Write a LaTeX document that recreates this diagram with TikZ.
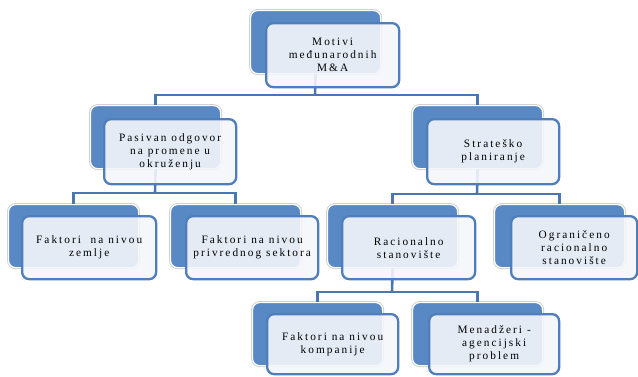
\documentclass[tikz,border=0pt]{standalone}
\usepackage{fontspec}
\setmainfont{Liberation Serif}[LetterSpace=18]
\definecolor{backblue}{RGB}{88,137,196}
\definecolor{frontfill}{RGB}{244,246,251}
\definecolor{frontline}{RGB}{79,126,189}
\definecolor{connblue}{RGB}{74,118,178}
\tikzset{
  backbox/.style={rectangle, rounded corners=7pt, fill=backblue, draw=white, line width=1.2pt,
    preaction={draw=black!18, line width=3pt},
    minimum width=130pt, minimum height=63pt, anchor=north west, inner sep=0pt},
  frontbox/.style={rectangle, rounded corners=7pt, fill=frontfill, fill opacity=0.9, text opacity=1,
    draw=frontline, draw opacity=1, line width=2.3pt, minimum width=133pt, minimum height=64pt,
    anchor=north west, align=center, inner sep=0pt, text=black,
    font=\fontsize{11.3}{13}\selectfont},
  conn/.style={draw=connblue, line width=2.6pt}
}
\begin{document}
\begin{tikzpicture}[x=1pt,y=-1pt]
\useasboundingbox (0,0) rectangle (638,376);
% back boxes
\node[backbox] (b0) at (250,10) {};
\node[backbox] (b1) at (90,105) {};
\node[backbox] (b2) at (412,105) {};
\node[backbox] (b3) at (8,204) {};
\node[backbox] (b4) at (170,204) {};
\node[backbox] (b5) at (327,204) {};
\node[backbox] (b6) at (494,204) {};
\node[backbox] (b7) at (252,302) {};
\node[backbox] (b8) at (412,302) {};
% junctions
\coordinate (j0) at (315,95);
\coordinate (j1) at (155,193);
\coordinate (j2) at (477,194);
\coordinate (j3) at (392,292);
% connectors
\draw[conn] (b0.south) -- (j0);
\draw[conn] (j0) -| (b1.north);
\draw[conn] (j0) -| (b2.north);
\draw[conn] (b1.south) -- (j1);
\draw[conn] (j1) -| (b3.north);
\draw[conn] (j1) -| (b4.north);
\draw[conn] (b2.south) -- (j2);
\draw[conn] (j2) -| (b5.north);
\draw[conn] (j2) -| (b6.north);
\draw[conn] (b5.south) -- (j3);
\draw[conn] (j3) -| (b7.north);
\draw[conn] (j3) -| (b8.north);
% front boxes
\node[frontbox] (f0) at (265,22) {Motivi\\međunarodnih\\M\&A};
\node[frontbox, minimum width=132pt, minimum height=65pt] (f1) at (103,118) {Pasivan odgovor\\na promene u\\okruženju};
\node[frontbox, minimum width=132pt, minimum height=65pt] (f2) at (426,118) {Strateško\\planiranje};
\node[frontbox, minimum width=134pt, minimum height=63pt] (f3) at (21,215) {Faktori\ \ na nivou\\zemlje};
\node[frontbox, minimum width=132pt, minimum height=63pt] (f4) at (185,215) {Faktori na nivou\\privrednog sektora};
\node[frontbox, minimum width=133pt, minimum height=63pt] (f5) at (341,215) {Racionalno\\stanovište};
\node[frontbox, minimum width=126pt, minimum height=63pt] (f6) at (510,215) {Ograničeno\\racionalno\\stanovište};
\node[frontbox, minimum width=131pt, minimum height=60pt] (f7) at (266,313) {Faktori na nivou\\kompanije};
\node[frontbox, minimum width=130pt, minimum height=60pt] (f8) at (428,313) {Menadžeri -\\agencijski\\problem};
\end{tikzpicture}
\end{document}
